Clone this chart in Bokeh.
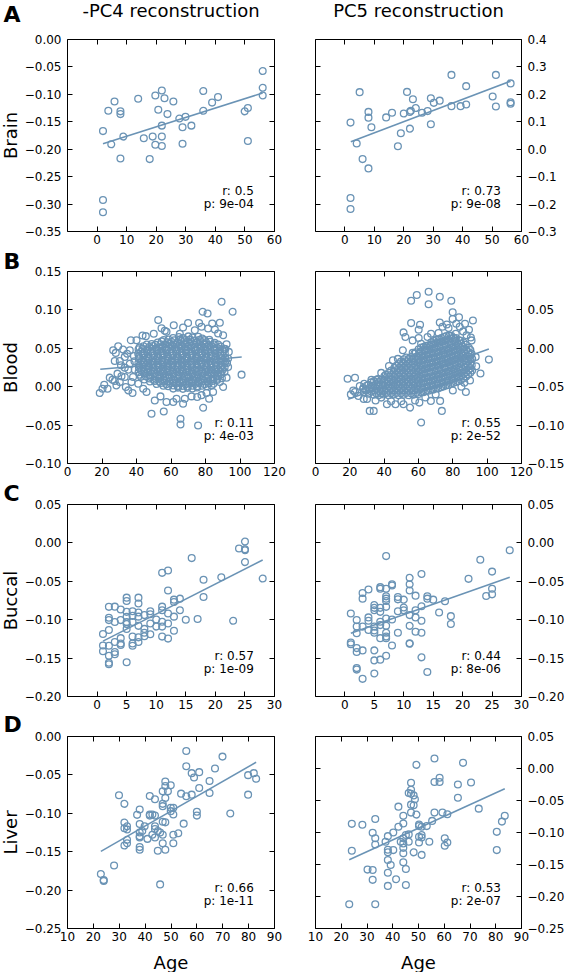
from bokeh.plotting import figure
from bokeh.layouts import column, row
from bokeh.models import Range1d, FixedTicker, LinearAxis, CustomJSTickFormatter, Label, GridBox
from bokeh.embed import file_html
from bokeh.resources import INLINE

COLOR = "#6a93b5"
FONT = "DejaVu Sans"

# ---------------- data ----------------
col_titles = ["-PC4 reconstruction", "PC5 reconstruction"]
row_names = ["Brain", "Blood", "Buccal", "Liver"]
panel_letters = ["A", "B", "C", "D"]
x_title = "Age"

brain_age_pc4 = [2, 2, 2, 3.8, 4.8, 5.9, 7.9, 7.9, 7.9, 8.9, 13.9, 15.8, 17.8, 18.8, 19.7, 19.7, 20.7,
                 21.9, 21.9, 21.9, 21.9, 22.8, 23.8, 25.8, 27.8, 28.9, 28.9, 29.9, 31.9, 35.9, 35.9,
                 38.9, 40.9, 49.9, 51, 51, 56, 56, 56]
brain_pc4 = [-0.167, -0.2925, -0.315, -0.13, -0.191, -0.113, -0.131, -0.136, -0.217, -0.177, -0.108,
             -0.18, -0.218, -0.177, -0.102, -0.192, -0.128, -0.093, -0.157, -0.177, -0.194, -0.107,
             -0.136, -0.113, -0.144, -0.16, -0.19, -0.141, -0.157, -0.094, -0.13, -0.115, -0.105,
             -0.131, -0.125, -0.185, -0.0575, -0.088, -0.102]
brain_pc4_fit_x = [2, 56]
brain_pc4_fit_y = [-0.190, -0.0975]

brain_age_pc5 = [1.9, 1.9, 1.9, 4, 5, 6, 8, 8, 8, 9, 14, 16, 18, 19, 20, 21.1, 22.1, 22.1, 22.4, 23.1,
                 24.1, 26.2, 28.1, 29.2, 29.2, 30.2, 32.2, 36.2, 36.2, 39.3, 41.2, 41.2, 50.2, 51.3,
                 51.3, 56.3, 56.3, 56.3]
brain_pc5 = [0.097, -0.178, -0.218, 0.021, 0.208, -0.036, 0.136, 0.115, -0.070, 0.080, 0.116, 0.133,
             0.011, 0.058, 0.13, 0.209, 0.136, 0.075, 0.14, 0.182, 0.150, 0.133, 0.139, 0.186, 0.091,
             0.169, 0.177, 0.271, 0.157, 0.157, 0.23, 0.163, 0.192, 0.271, 0.156, 0.24, 0.171, 0.166]
brain_pc5_fit_x = [2, 56.3]
brain_pc5_fit_y = [0.027, 0.248]

blood_pc4_pts = [
    # dense core
    (61.2, 0.0635), (64.5, 0.0648), (67.0, 0.0632), (70.1, 0.0655), (72.5, 0.0640), (75.8, 0.0650), (78.1, 0.0628),
    (55.8, 0.0608), (58.6, 0.0614), (61.9, 0.0604), (65.3, 0.0616), (68.2, 0.0607), (71.0, 0.0613), (73.8, 0.0602),
    (76.6, 0.0612), (79.4, 0.0606), (82.2, 0.0611),
    (52.3, 0.0575), (54.6, 0.0590), (57.9, 0.0578), (60.2, 0.0586), (63.5, 0.0571), (65.8, 0.0594), (69.0, 0.0580),
    (71.4, 0.0588), (74.7, 0.0574), (77.0, 0.0592), (80.3, 0.0579), (82.6, 0.0586), (85.3, 0.0572),
    (46.0, 0.0548), (48.8, 0.0556), (51.1, 0.0545), (53.9, 0.0553), (56.7, 0.0549), (59.5, 0.0557), (62.3, 0.0546),
    (65.1, 0.0554), (67.9, 0.0550), (70.7, 0.0558), (73.5, 0.0547), (76.3, 0.0555), (79.1, 0.0551), (81.9, 0.0544),
    (84.7, 0.0553), (87.3, 0.0548),
    (41.8, 0.0512), (44.1, 0.0527), (47.4, 0.0516), (49.6, 0.0531), (52.9, 0.0509), (55.3, 0.0524), (58.5, 0.0515),
    (60.8, 0.0530), (64.1, 0.0512), (66.4, 0.0526), (69.7, 0.0518), (72.0, 0.0532), (75.3, 0.0510), (77.6, 0.0525),
    (80.9, 0.0514), (83.2, 0.0529), (86.5, 0.0511), (88.8, 0.0523),
    (41.2, 0.0488), (43.5, 0.0495), (46.3, 0.0486), (49.1, 0.0493), (51.9, 0.0490), (54.7, 0.0497), (57.5, 0.0484),
    (60.3, 0.0492), (63.1, 0.0489), (65.9, 0.0496), (68.7, 0.0485), (71.5, 0.0493), (74.3, 0.0487), (77.1, 0.0495),
    (79.9, 0.0490), (82.7, 0.0486), (85.5, 0.0494), (88.3, 0.0489), (90.9, 0.0492),
    (42.7, 0.0455), (45.9, 0.0468), (48.3, 0.0452), (51.6, 0.0466), (53.9, 0.0458), (57.1, 0.0470), (59.5, 0.0454),
    (62.8, 0.0463), (65.1, 0.0451), (68.4, 0.0467), (70.6, 0.0459), (73.9, 0.0471), (76.2, 0.0453), (79.5, 0.0465),
    (81.8, 0.0457), (85.1, 0.0469), (87.4, 0.0450), (90.3, 0.0462),
    (41.0, 0.0428), (43.8, 0.0435), (46.6, 0.0426), (49.4, 0.0433), (52.2, 0.0430), (55.0, 0.0437), (57.8, 0.0424),
    (60.6, 0.0432), (63.4, 0.0429), (66.2, 0.0436), (69.0, 0.0425), (71.8, 0.0433), (74.6, 0.0427), (77.4, 0.0435),
    (80.2, 0.0430), (83.0, 0.0426), (85.8, 0.0434), (88.6, 0.0429), (91.2, 0.0432),
    (41.4, 0.0395), (44.5, 0.0408), (46.9, 0.0391), (50.2, 0.0404), (52.5, 0.0398), (55.7, 0.0410), (58.1, 0.0393),
    (61.3, 0.0406), (63.7, 0.0396), (66.9, 0.0409), (69.2, 0.0392), (72.4, 0.0405), (74.8, 0.0399), (78.0, 0.0411),
    (80.4, 0.0394), (83.6, 0.0407), (85.9, 0.0397), (89.0, 0.0403),
    (41.3, 0.0368), (44.1, 0.0375), (46.9, 0.0366), (49.7, 0.0373), (52.5, 0.0370), (55.3, 0.0377), (58.1, 0.0364),
    (60.9, 0.0372), (63.7, 0.0369), (66.5, 0.0376), (69.3, 0.0365), (72.1, 0.0373), (74.9, 0.0367), (77.7, 0.0375),
    (80.5, 0.0370), (83.3, 0.0366), (86.1, 0.0374), (88.9, 0.0369), (91.4, 0.0372),
    (42.9, 0.0335), (45.6, 0.0348), (48.6, 0.0331), (51.2, 0.0344), (54.3, 0.0338), (56.8, 0.0350), (59.9, 0.0333),
    (62.4, 0.0346), (65.5, 0.0336), (68.0, 0.0349), (71.1, 0.0332), (73.6, 0.0345), (76.7, 0.0339), (79.2, 0.0351),
    (82.3, 0.0334), (84.8, 0.0347), (87.9, 0.0337), (90.4, 0.0344),
    (41.1, 0.0308), (43.9, 0.0315), (46.7, 0.0306), (49.5, 0.0313), (52.3, 0.0310), (55.1, 0.0317), (57.9, 0.0304),
    (60.7, 0.0312), (63.5, 0.0309), (66.3, 0.0316), (69.1, 0.0305), (71.9, 0.0313), (74.7, 0.0307), (77.5, 0.0315),
    (80.3, 0.0310), (83.1, 0.0306), (85.9, 0.0314), (88.7, 0.0309), (91.3, 0.0312),
    (41.6, 0.0275), (44.3, 0.0288), (47.2, 0.0271), (49.8, 0.0284), (52.8, 0.0278), (55.4, 0.0290), (58.4, 0.0273),
    (61.0, 0.0286), (64.0, 0.0276), (66.6, 0.0289), (69.6, 0.0272), (72.2, 0.0285), (75.2, 0.0279), (77.8, 0.0291),
    (80.8, 0.0274), (83.4, 0.0287), (86.4, 0.0277), (89.2, 0.0283),
    (41.4, 0.0248), (44.2, 0.0255), (47.0, 0.0246), (49.8, 0.0253), (52.6, 0.0250), (55.4, 0.0257), (58.2, 0.0244),
    (61.0, 0.0252), (63.8, 0.0249), (66.6, 0.0256), (69.4, 0.0245), (72.2, 0.0253), (75.0, 0.0247), (77.8, 0.0255),
    (80.6, 0.0250), (83.4, 0.0246), (86.2, 0.0254), (89.0, 0.0249), (91.1, 0.0252),
    (42.8, 0.0215), (45.7, 0.0228), (48.4, 0.0211), (51.4, 0.0224), (54.0, 0.0218), (57.0, 0.0230), (59.6, 0.0213),
    (62.6, 0.0226), (65.2, 0.0216), (68.2, 0.0229), (70.8, 0.0212), (73.8, 0.0225), (76.4, 0.0219), (79.4, 0.0231),
    (82.0, 0.0214), (85.0, 0.0227), (87.6, 0.0217), (90.1, 0.0223),
    (41.2, 0.0188), (44.0, 0.0195), (46.8, 0.0186), (49.6, 0.0193), (52.4, 0.0190), (55.2, 0.0197), (58.0, 0.0184),
    (60.8, 0.0192), (63.6, 0.0189), (66.4, 0.0196), (69.2, 0.0185), (72.0, 0.0193), (74.8, 0.0187), (77.6, 0.0195),
    (80.4, 0.0190), (83.2, 0.0186), (86.0, 0.0194), (88.8, 0.0189),
    (41.9, 0.0155), (44.6, 0.0168), (47.6, 0.0151), (50.1, 0.0164), (53.2, 0.0158), (55.6, 0.0170), (58.8, 0.0153),
    (61.2, 0.0166), (64.4, 0.0156), (66.8, 0.0169), (70.0, 0.0152), (72.4, 0.0165), (75.6, 0.0159), (78.0, 0.0171),
    (81.2, 0.0154), (83.6, 0.0167), (86.6, 0.0157), (89.0, 0.0163),
    (42.6, 0.0128), (45.4, 0.0135), (48.2, 0.0126), (51.0, 0.0133), (53.8, 0.0130), (56.6, 0.0137), (59.4, 0.0124),
    (62.2, 0.0132), (65.0, 0.0129), (67.8, 0.0136), (70.6, 0.0125), (73.4, 0.0133), (76.2, 0.0127), (79.0, 0.0135),
    (81.8, 0.0130), (84.6, 0.0126), (87.4, 0.0134),
    (44.5, 0.0095), (47.4, 0.0108), (49.9, 0.0091), (52.9, 0.0104), (55.5, 0.0098), (58.4, 0.0110), (61.0, 0.0093),
    (64.0, 0.0106), (66.6, 0.0096), (69.5, 0.0109), (72.1, 0.0092), (75.1, 0.0105), (77.7, 0.0099), (80.6, 0.0111),
    (83.2, 0.0094), (86.9, 0.0104),
    (47.8, 0.0068), (50.6, 0.0075), (53.4, 0.0066), (56.2, 0.0073), (59.0, 0.0070), (61.8, 0.0077), (64.6, 0.0064),
    (67.4, 0.0072), (70.2, 0.0069), (73.0, 0.0076), (75.8, 0.0065), (78.6, 0.0073), (81.4, 0.0067), (84.2, 0.0074),
    (86.8, 0.0088),
    (51.6, 0.0035), (54.2, 0.0048), (57.3, 0.0031), (59.7, 0.0044), (62.8, 0.0038), (65.3, 0.0050), (68.4, 0.0033),
    (70.8, 0.0046), (73.9, 0.0036), (76.4, 0.0049), (79.5, 0.0032), (81.9, 0.0045), (84.6, 0.0039),
    (55.6, 0.0012), (58.4, 0.0005), (61.2, 0.0015), (64.0, 0.0008), (66.8, 0.0011), (69.6, 0.0004), (72.4, 0.0013),
    (75.2, 0.0007), (78.0, 0.0012), (80.8, 0.0006),
    (61.3, -0.0025), (64.1, -0.0012), (66.9, -0.0028), (69.6, -0.0015), (72.4, -0.0022), (75.2, -0.0010),
    # sparser surroundings
    (18.7, -0.0083), (20.3, -0.0026), (21.3, 0.0026), (23.2, -0.0026), (24.5, 0.0118), (26.1, 0.009),
    (27.4, 0.0074), (28.4, 0.0017), (30.3, 0.006), (31.3, 0.0135), (33.2, 0.0126), (33.8, -0.0004),
    (35.2, -0.0048), (37.7, -0.0083), (26.5, 0.0475), (28.0, 0.044), (29.4, 0.0527), (27.4, 0.0335),
    (30.3, 0.0335), (32.3, 0.0483), (33.2, 0.0388), (36.1, 0.0475), (36.7, 0.0605), (40.0, 0.0605),
    (43.5, 0.0666), (45.4, 0.0658), (36.1, 0.030), (35.2, 0.0222), (33.2, 0.0248), (38.0, 0.0126),
    (37.1, 0.006), (38.5, 0.040), (39.0, 0.022), (34.5, 0.043), (31.0, 0.028), (29.0, 0.017), (38.8, 0.033),
    (52.6, 0.0867), (56.4, 0.0727), (61.6, 0.080), (67.0, 0.077), (69.9, 0.083), (76.3, 0.083),
    (78.3, 0.0976), (81.2, 0.0954), (83.9, 0.0823), (88.3, 0.0832), (89.3, 0.1106), (95.7, 0.0976),
    (85.4, 0.0745), (87.3, 0.0692), (92.2, 0.0553), (93.5, 0.0453), (93.1, 0.0257), (92.2, 0.0118),
    (90.2, -0.0004), (100.9, 0.0157), (45.8, -0.007), (50.6, -0.0179), (48.7, -0.0353), (55.8, -0.0322),
    (57.4, -0.020), (65.5, -0.0418), (65.5, -0.0492), (75.7, -0.0505), (78.6, -0.0274), (82.1, -0.0157),
    (75.2, -0.0135), (67.0, -0.0222), (61.3, -0.020), (50.0, 0.069), (54.5, 0.076), (57.4, 0.0714),
    (65.1, 0.069), (73.8, 0.0736), (77.7, 0.078), (81.5, 0.0758), (90.2, 0.067), (93.1, 0.0366),
    (88.3, 0.006), (83.5, 0.0017), (84.4, -0.007), (80.6, -0.0083), (77.7, -0.011), (71.9, -0.0126),
    (68.0, -0.0157), (63.2, -0.0157), (53.9, -0.0126), (43.9, -0.0026), (41.0, 0.0039), (91.5, 0.049),
    (92.5, 0.031), (91.0, 0.019), (89.5, 0.011),
]
blood_pc4_fit_x = [19, 101]
blood_pc4_fit_y = [0.0226, 0.0388]

blood_pc5_pts = [
    # dense band
    (28.2, -0.0575), (27.9, -0.0518), (28.4, -0.0462),
    (29.6, -0.0545), (29.8, -0.0488),
    (31.0, -0.0592), (31.3, -0.0531), (30.8, -0.0474),
    (32.5, -0.0562), (32.7, -0.0503), (32.4, -0.0444),
    (33.9, -0.0605), (34.2, -0.0548), (33.7, -0.0489), (34.1, -0.0428),
    (35.4, -0.0585), (35.6, -0.0526), (35.3, -0.0467), (35.5, -0.0410),
    (36.8, -0.0612), (37.1, -0.0556), (36.6, -0.0497), (37.0, -0.0438),
    (38.3, -0.0588), (38.5, -0.0529), (38.2, -0.0470), (38.4, -0.0411),
    (39.7, -0.0601), (40.0, -0.0543), (39.5, -0.0482), (39.9, -0.0421), (40.2, -0.0362),
    (41.2, -0.0582), (41.4, -0.0523), (41.1, -0.0464), (41.3, -0.0405), (41.0, -0.0346),
    (42.6, -0.0612), (42.9, -0.0553), (42.4, -0.0494), (42.8, -0.0433), (43.1, -0.0374), (42.7, -0.0318),
    (44.1, -0.0585), (44.3, -0.0526), (44.0, -0.0467), (44.2, -0.0408), (43.9, -0.0349), (44.1, -0.0290),
    (45.5, -0.0603), (45.8, -0.0545), (45.3, -0.0485), (45.7, -0.0424), (46.0, -0.0366), (45.6, -0.0305),
    (45.9, -0.0258),
    (47.0, -0.0582), (47.2, -0.0523), (46.9, -0.0464), (47.1, -0.0405), (46.8, -0.0346), (47.0, -0.0287),
    (47.2, -0.0228),
    (48.4, -0.0612), (48.7, -0.0551), (48.2, -0.0492), (48.6, -0.0433), (48.9, -0.0373), (48.5, -0.0314),
    (48.8, -0.0255), (48.6, -0.0198),
    (49.9, -0.0585), (50.1, -0.0526), (49.8, -0.0467), (50.0, -0.0408), (49.7, -0.0349), (49.9, -0.0290),
    (50.1, -0.0231), (49.8, -0.0172),
    (51.3, -0.0604), (51.6, -0.0546), (51.1, -0.0487), (51.5, -0.0426), (51.8, -0.0366), (51.4, -0.0307),
    (51.7, -0.0248), (51.2, -0.0190), (51.5, -0.0142),
    (52.8, -0.0582), (53.0, -0.0523), (52.7, -0.0464), (52.9, -0.0405), (52.6, -0.0346), (52.8, -0.0287),
    (53.0, -0.0228), (52.7, -0.0169), (52.9, -0.0120),
    (54.2, -0.0612), (54.5, -0.0553), (54.0, -0.0493), (54.4, -0.0434), (54.7, -0.0375), (54.3, -0.0315),
    (54.6, -0.0256), (54.1, -0.0197), (54.4, -0.0138),
    (55.7, -0.0585), (55.9, -0.0526), (55.6, -0.0467), (55.8, -0.0408), (55.5, -0.0349), (55.7, -0.0290),
    (55.9, -0.0231), (55.6, -0.0172), (55.8, -0.0113),
    (57.1, -0.0604), (57.4, -0.0545), (56.9, -0.0486), (57.3, -0.0427), (57.6, -0.0367), (57.2, -0.0308),
    (57.5, -0.0249), (57.0, -0.0190), (57.3, -0.0131), (57.6, -0.0072),
    (58.6, -0.0582), (58.8, -0.0523), (58.5, -0.0464), (58.7, -0.0405), (58.4, -0.0346), (58.6, -0.0287),
    (58.8, -0.0228), (58.5, -0.0169), (58.7, -0.0110), (58.4, -0.0051),
    (60.0, -0.0595), (60.3, -0.0537), (59.8, -0.0478), (60.2, -0.0418), (60.5, -0.0358), (60.1, -0.0299),
    (60.4, -0.0240), (59.9, -0.0181), (60.2, -0.0122), (60.5, -0.0063), (60.1, -0.0012),
    (61.5, -0.0572), (61.7, -0.0513), (61.4, -0.0454), (61.6, -0.0395), (61.3, -0.0336), (61.5, -0.0277),
    (61.7, -0.0218), (61.4, -0.0159), (61.6, -0.0100), (61.3, -0.0041), (61.5, 0.0010),
    (62.9, -0.0571), (63.2, -0.0512), (62.7, -0.0453), (63.1, -0.0394), (63.4, -0.0335), (63.0, -0.0276),
    (63.3, -0.0217), (62.8, -0.0158), (63.1, -0.0099), (63.4, -0.0040), (63.0, 0.0018),
    (64.4, -0.0556), (64.6, -0.0497), (64.3, -0.0438), (64.5, -0.0379), (64.2, -0.0320), (64.4, -0.0261),
    (64.6, -0.0202), (64.3, -0.0143), (64.5, -0.0084), (64.2, -0.0025), (64.4, 0.0034),
    (65.8, -0.0553), (66.1, -0.0494), (65.6, -0.0435), (66.0, -0.0376), (66.3, -0.0317), (65.9, -0.0258),
    (66.2, -0.0199), (65.7, -0.0140), (66.0, -0.0081), (66.3, -0.0022), (65.9, 0.0037),
    (67.3, -0.0540), (67.5, -0.0481), (67.2, -0.0422), (67.4, -0.0363), (67.1, -0.0304), (67.3, -0.0245),
    (67.5, -0.0186), (67.2, -0.0127), (67.4, -0.0068), (67.1, -0.0009), (67.3, 0.0050), (67.5, 0.0078),
    (68.7, -0.0538), (69.0, -0.0479), (68.5, -0.0420), (68.9, -0.0361), (69.2, -0.0302), (68.8, -0.0243),
    (69.1, -0.0184), (68.6, -0.0125), (68.9, -0.0066), (69.2, -0.0007), (68.8, 0.0052), (69.1, 0.0095),
    (70.2, -0.0522), (70.4, -0.0463), (70.1, -0.0404), (70.3, -0.0345), (70.0, -0.0286), (70.2, -0.0227),
    (70.4, -0.0168), (70.1, -0.0109), (70.3, -0.0050), (70.0, 0.0009), (70.2, 0.0068), (70.4, 0.0112),
    (71.6, -0.0521), (71.9, -0.0462), (71.4, -0.0403), (71.8, -0.0344), (72.1, -0.0285), (71.7, -0.0226),
    (72.0, -0.0167), (71.5, -0.0108), (71.8, -0.0049), (72.1, 0.0010), (71.7, 0.0069), (72.0, 0.0121),
    (73.1, -0.0506), (73.3, -0.0447), (73.0, -0.0388), (73.2, -0.0329), (72.9, -0.0270), (73.1, -0.0211),
    (73.3, -0.0152), (73.0, -0.0093), (73.2, -0.0034), (72.9, 0.0025), (73.1, 0.0084), (73.3, 0.0135),
    (74.5, -0.0497), (74.8, -0.0438), (74.3, -0.0379), (74.7, -0.0320), (75.0, -0.0261), (74.6, -0.0202),
    (74.9, -0.0143), (74.4, -0.0084), (74.7, -0.0025), (75.0, 0.0034), (74.6, 0.0093), (74.9, 0.0148),
    (76.0, -0.0485), (76.2, -0.0426), (75.9, -0.0367), (76.1, -0.0308), (75.8, -0.0249), (76.0, -0.0190),
    (76.2, -0.0131), (75.9, -0.0072), (76.1, -0.0013), (75.8, 0.0046), (76.0, 0.0105), (76.2, 0.0160),
    (77.4, -0.0478), (77.7, -0.0419), (77.2, -0.0360), (77.6, -0.0301), (77.9, -0.0242), (77.5, -0.0183),
    (77.8, -0.0124), (77.3, -0.0065), (77.6, -0.0006), (77.9, 0.0053), (77.5, 0.0112), (77.8, 0.0165),
    (78.9, -0.0462), (79.1, -0.0403), (78.8, -0.0344), (79.0, -0.0285), (78.7, -0.0226), (78.9, -0.0167),
    (79.1, -0.0108), (78.8, -0.0049), (79.0, 0.0010), (78.7, 0.0069), (78.9, 0.0128), (79.1, 0.0162),
    (80.3, -0.0452), (80.6, -0.0393), (80.1, -0.0334), (80.5, -0.0275), (80.8, -0.0216), (80.4, -0.0157),
    (80.7, -0.0098), (80.2, -0.0039), (80.5, 0.0020), (80.8, 0.0079), (80.4, 0.0138),
    (81.8, -0.0438), (82.0, -0.0379), (81.7, -0.0320), (81.9, -0.0261), (81.6, -0.0202), (81.8, -0.0143),
    (82.0, -0.0084), (81.7, -0.0025), (81.9, 0.0034), (81.6, 0.0093), (81.8, 0.0135),
    (83.2, -0.0428), (83.5, -0.0369), (83.0, -0.0310), (83.4, -0.0251), (83.7, -0.0192), (83.3, -0.0133),
    (83.6, -0.0074), (83.1, -0.0015), (83.4, 0.0044), (83.7, 0.0103),
    (84.7, -0.0410), (84.9, -0.0351), (84.6, -0.0292), (84.8, -0.0233), (84.5, -0.0174), (84.7, -0.0115),
    (84.9, -0.0056), (84.6, 0.0003), (84.8, 0.0062), (84.5, 0.0098),
    (86.1, -0.0392), (86.4, -0.0333), (85.9, -0.0274), (86.3, -0.0215), (86.6, -0.0156), (86.2, -0.0097),
    (86.5, -0.0038), (86.0, 0.0021), (86.3, 0.0075),
    (87.6, -0.0370), (87.8, -0.0311), (87.5, -0.0252), (87.7, -0.0193), (87.4, -0.0134), (87.6, -0.0075),
    (87.8, -0.0016), (87.5, 0.0045),
    (88.9, -0.0345), (89.2, -0.0286), (88.7, -0.0227), (89.1, -0.0168), (89.4, -0.0109), (89.0, -0.0050),
    (89.3, 0.0005),
    (90.2, -0.0318), (90.4, -0.0259), (90.1, -0.0200), (90.3, -0.0141), (90.0, -0.0082), (90.2, -0.0023),
    (91.2, -0.0290), (91.0, -0.0220), (91.3, -0.0140), (90.9, -0.0070),
    # sparser surroundings
    (18.7, -0.0397), (23.0, -0.0384), (20.6, -0.060), (23.0, -0.057), (25.8, -0.049), (27.7, -0.053),
    (28.1, -0.066), (31.6, -0.0815), (33.9, -0.0815), (32.6, -0.041), (36.4, -0.040), (38.3, -0.032),
    (42.8, -0.023), (45.1, -0.0155), (48.0, -0.0138), (50.9, -0.0026), (52.4, 0.0147), (51.3, 0.0207),
    (55.7, 0.0328), (56.6, 0.0103), (60.1, 0.0134), (60.9, 0.0306), (60.1, 0.0241), (55.7, 0.062),
    (59.0, 0.0694), (65.9, 0.0737), (65.9, 0.0573), (72.4, 0.0672), (79.1, 0.062), (79.9, 0.047),
    (79.9, 0.038), (83.6, 0.0405), (87.1, 0.0319), (91.7, 0.0362), (89.4, 0.0241), (90.9, 0.0103),
    (93.3, -0.0112), (93.6, -0.0233), (96.1, -0.0328), (101.0, -0.0147), (87.6, -0.0569), (86.7, -0.0448),
    (73.6, -0.0815), (72.6, -0.0685), (61.5, -0.0966), (55.1, -0.0772), (51.3, -0.0728), (46.6, -0.0728),
    (41.6, -0.0728), (38.3, -0.0642), (60.5, -0.0707), (67.2, -0.0685), (72.4, 0.0336), (56.6, -0.006),
    (66.7, 0.0026), (67.3, 0.019), (65.3, 0.0147), (71.7, 0.0198), (77.5, 0.0263), (81.7, 0.019),
    (61.5, 0.006), (74.0, 0.028), (84.0, 0.028), (86.0, 0.022), (88.0, 0.017), (90.5, 0.014), (82.0, 0.032),
    (76.5, 0.031), (30.0, -0.066), (35.0, -0.068), (44.0, -0.069), (50.0, -0.069), (58.0, -0.068),
    (64.0, -0.064), (70.0, -0.060), (80.0, -0.055), (85.0, -0.050), (90.0, -0.042), (25.0, -0.062),
    (22.0, -0.055),
]
blood_pc5_fit_x = [19, 101]
blood_pc5_fit_y = [-0.0664, -0.0009]

buccal_pc4_pts = [
    (1, -0.1186), (1, -0.1336), (1, -0.141),
    (2, -0.0833), (2, -0.0975), (2, -0.1005), (2, -0.1134), (2, -0.134), (2, -0.147), (2, -0.156), (2, -0.158),
    (3, -0.083), (3, -0.103), (3, -0.129), (3, -0.142), (3, -0.145),
    (4, -0.0868), (4, -0.1005), (4, -0.124), (4, -0.131), (4, -0.133),
    (5, -0.0713), (5, -0.0756), (5, -0.0898), (5, -0.0962), (5, -0.103), (5, -0.1057), (5, -0.112), (5, -0.1555),
    (6, -0.089), (6, -0.095), (6, -0.103), (6, -0.122), (6, -0.131), (6, -0.134),
    (7, -0.0713), (7, -0.079), (7, -0.0906), (7, -0.096), (7, -0.108), (7, -0.123), (7, -0.129),
    (8, -0.094), (8, -0.112), (8, -0.117), (8, -0.1216),
    (9, -0.089), (9, -0.093), (9, -0.105), (9, -0.119),
    (10, -0.0997), (10, -0.109),
    (11, -0.039), (11, -0.083), (11, -0.0876), (11, -0.1027), (11, -0.109), (11, -0.122),
    (12, -0.036), (12, -0.0619), (12, -0.092), (12, -0.105), (12, -0.1246),
    (13, -0.0739), (13, -0.077), (13, -0.096), (13, -0.1143),
    (14, -0.0726), (14, -0.0876), (15, -0.100), (16, -0.0198), (17, -0.099),
    (18, -0.048), (18, -0.0704), (21, -0.0447), (23, -0.1014), (24, -0.0073),
    (25, 0.0017), (25, -0.0082), (25, -0.0095), (25, -0.025), (28, -0.0464),
]
buccal_pc4_fit_x = [1, 28]
buccal_pc4_fit_y = [-0.128, -0.0223]

buccal_pc5_pts = [
    (1, -0.092), (1, -0.1297), (1, -0.132),
    (2, -0.1005), (2, -0.109), (2, -0.1177), (2, -0.137), (2, -0.142), (2, -0.163), (2, -0.165),
    (3, -0.0653), (3, -0.0726), (3, -0.109), (3, -0.14), (3, -0.177),
    (4, -0.0606), (4, -0.097), (4, -0.1014), (4, -0.1134),
    (5, -0.081), (5, -0.0846), (5, -0.0876), (5, -0.109), (5, -0.114), (5, -0.117), (5, -0.14), (5, -0.153), (5, -0.170),
    (6, -0.0576), (6, -0.0597), (6, -0.0846), (6, -0.0898), (6, -0.1027), (6, -0.107), (6, -0.124), (6, -0.152),
    (7, -0.0172), (7, -0.0597), (7, -0.0696), (7, -0.0726), (7, -0.0756), (7, -0.0833), (7, -0.0984), (7, -0.108),
    (7, -0.117), (7, -0.122), (7, -0.124), (7, -0.147),
    (8, -0.054), (8, -0.0554), (8, -0.0997), (8, -0.1336),
    (9, -0.0704), (9, -0.0735), (9, -0.089), (9, -0.117),
    (10, -0.0739), (10, -0.0842), (10, -0.0876),
    (11, -0.0455), (11, -0.054), (11, -0.0619), (11, -0.094), (11, -0.108), (11, -0.1306), (11, -0.1314),
    (12, -0.0687), (12, -0.0876), (12, -0.097), (12, -0.1156),
    (13, -0.0404), (13, -0.0825), (13, -0.1014), (13, -0.117), (13, -0.149),
    (14, -0.0696), (14, -0.0726), (14, -0.168), (15, -0.0739), (16, -0.0906), (17, -0.076),
    (18, -0.0954), (18, -0.1057), (21, -0.0468), (23, -0.0219), (24, -0.0692),
    (25, -0.0374), (25, -0.0597), (25, -0.067), (28, -0.0095),
]
buccal_pc5_fit_x = [1, 28]
buccal_pc5_fit_y = [-0.1177, -0.0447]

liver_pc4_pts = [
    (22.9, -0.179), (24, -0.187), (24, -0.188), (28, -0.168), (29.9, -0.0765), (32, -0.0877), (32, -0.112),
    (32, -0.1195), (32, -0.142), (33, -0.117), (33, -0.121), (33, -0.1346), (33, -0.139), (36.9, -0.102),
    (37.9, -0.095), (37.9, -0.114), (37.9, -0.125), (37.9, -0.130), (37.9, -0.1316), (37.9, -0.144),
    (37.9, -0.1475), (38.9, -0.123), (39.8, -0.117), (40.9, -0.1333), (41.8, -0.0774), (41.8, -0.1015),
    (41.8, -0.103), (42.8, -0.1015), (42.8, -0.128), (43.8, -0.0817), (43.8, -0.103), (43.8, -0.117),
    (43.8, -0.1204), (43.8, -0.1316), (44.9, -0.123), (44.9, -0.1488), (45.8, -0.125), (45.8, -0.1926),
    (46.8, -0.128), (46.8, -0.139), (46.8, -0.0714), (46.8, -0.0877), (46.8, -0.0907), (46.8, -0.111),
    (47.8, -0.0585), (47.8, -0.0645), (47.8, -0.08), (47.8, -0.1118), (47.8, -0.1475), (48.8, -0.0714),
    (49.9, -0.0636), (49.9, -0.0929), (49.9, -0.0972), (50.9, -0.0929), (50.9, -0.1015), (50.9, -0.128),
    (50.9, -0.139), (52.8, -0.126), (53.9, -0.0744), (54.9, -0.1135), (55.9, -0.0189), (55.9, -0.0387),
    (55.9, -0.0778), (58, -0.0477), (58, -0.0757), (58.9, -0.0533), (60, -0.098), (60, -0.103),
    (60.9, -0.0464), (60.9, -0.067), (64.9, -0.058), (64.9, -0.0735), (67, -0.0417), (69.9, -0.0262),
    (72.9, -0.1002), (79.8, -0.0503), (79.8, -0.0757), (82, -0.0477), (82.9, -0.055),
]
liver_pc4_fit_x = [22.9, 82.9]
liver_pc4_fit_y = [-0.1496, -0.0335]

liver_pc5_pts = [
    (23.1, -0.212), (24.1, -0.0865), (24.1, -0.1285), (28.2, -0.088), (30.2, -0.158), (32.2, -0.1005),
    (32.2, -0.1585), (32.2, -0.174), (33.2, -0.0788), (33.2, -0.109), (33.2, -0.1187), (33.2, -0.212),
    (37.2, -0.1145), (38.1, -0.1057), (38.1, -0.127), (38.1, -0.131), (38.1, -0.143), (38.1, -0.163),
    (38.1, -0.1834), (39.2, -0.1508), (40.2, -0.100), (40.2, -0.1275), (41.3, -0.173), (42.2, -0.0596),
    (42.2, -0.091), (43.1, -0.1145), (44.1, -0.074), (44.1, -0.086), (44.1, -0.109), (44.1, -0.117),
    (44.1, -0.124), (44.1, -0.1326), (44.1, -0.1466), (45.1, -0.104), (45.1, -0.157), (45.1, -0.182),
    (46.2, -0.0383), (46.2, -0.103), (46.2, -0.1145), (47.1, -0.0223), (47.1, -0.0394), (47.1, -0.0565),
    (47.1, -0.0689), (47.1, -0.0332), (48.1, -0.042), (48.1, -0.0575), (48.1, -0.131), (48.6, -0.048),
    (49.2, 0.0057), (49.2, -0.072), (50.2, -0.0876), (50.2, -0.090), (50.2, -0.1067), (50.2, -0.1155),
    (51.2, -0.091), (51.2, -0.104), (51.2, -0.1078), (51.2, -0.135), (53.2, -0.090), (54.2, -0.1145),
    (55.3, -0.0819), (56.2, 0.0155), (56.2, -0.0212), (56.2, -0.0689), (58.2, -0.0145), (58.2, -0.0212),
    (59.3, -0.0689), (60.2, -0.109), (60.2, -0.1207), (61.2, -0.1155), (61.2, -0.0715), (65.3, -0.0249),
    (65.3, -0.0456), (67.3, 0.0088), (70.4, -0.0218), (73.4, -0.0627), (80.4, -0.099), (80.4, -0.1275),
    (82.4, -0.083), (83.5, -0.074),
]
liver_pc5_fit_x = [23.1, 83.5]
liver_pc5_fit_y = [-0.1425, -0.0316]

stats_r = [["r: 0.5", "r: 0.73"], ["r: 0.11", "r: 0.55"], ["r: 0.57", "r: 0.44"], ["r: 0.66", "r: 0.53"]]
stats_p = [["p: 9e-04", "p: 9e-08"], ["p: 4e-03", "p: 2e-52"], ["p: 1e-09", "p: 8e-06"], ["p: 1e-11", "p: 2e-07"]]

x_ranges = [(-10, 60), (0, 120), (-5, 30), (10, 90)]
x_ticks = [[0, 10, 20, 30, 40, 50, 60], [0, 20, 40, 60, 80, 100, 120], [0, 5, 10, 15, 20, 25, 30],
           [10, 20, 30, 40, 50, 60, 70, 80, 90]]
y_ranges = [[(-0.35, 0.0), (-0.3, 0.4)], [(-0.10, 0.15), (-0.15, 0.10)],
            [(-0.20, 0.05), (-0.20, 0.05)], [(-0.25, 0.0), (-0.25, 0.05)]]
y_ticks = [[[-0.35, -0.3, -0.25, -0.2, -0.15, -0.1, -0.05, 0.0], [-0.3, -0.2, -0.1, 0.0, 0.1, 0.2, 0.3, 0.4]],
           [[-0.1, -0.05, 0.0, 0.05, 0.1, 0.15], [-0.15, -0.1, -0.05, 0.0, 0.05]],
           [[-0.2, -0.15, -0.1, -0.05, 0.0, 0.05], [-0.2, -0.15, -0.1, -0.05, 0.0, 0.05]],
           [[-0.25, -0.2, -0.15, -0.1, -0.05, 0.0], [-0.25, -0.2, -0.15, -0.1, -0.05, 0.0, 0.05]]]
y_decimals = [[2, 1], [2, 2], [2, 2], [2, 2]]

# ---------------- layout (pixels) ----------------
TOTAL_W, TOTAL_H = 567, 972
COL_W = [294, 273]
COL_BORDERS = [(67, 20), (21, 46)]      # (left, right)
ROW_H = [251, 232, 233, 256]
ROW_BORDERS = [(39, 20), (20, 20), (21, 20), (20, 44)]  # (top, bottom)
MID = 0.36  # distance from baseline to the middle of capital letters, in font sizes


def num_fmt(dec):
    return CustomJSTickFormatter(args=dict(d=dec), code="""
        const s = Math.abs(tick).toFixed(d);
        return (tick < -1e-9 ? '\u2212' : '') + s;
    """)


def blank_fmt():
    return CustomJSTickFormatter(code="return '';")


def style_axis(ax, ticks, fmt, labels=True, standoff=5):
    ax.ticker = FixedTicker(ticks=ticks)
    ax.formatter = fmt
    ax.axis_line_color = None
    ax.major_tick_in = 5
    ax.major_tick_out = 0
    ax.major_tick_line_color = "black"
    ax.major_tick_line_width = 1
    ax.minor_tick_line_color = None
    ax.major_label_text_font = FONT
    ax.major_label_text_color = "black"
    ax.major_label_standoff = standoff
    ax.major_label_text_font_size = "12px" if labels else "0px"


def label(p, text, x, y, size, align="left", bold=False, angle=0, units="screen"):
    p.add_layout(Label(x=x, y=y, x_units=units, y_units=units, text=text,
                       text_font=FONT, text_font_size=f"{size}px", text_align=align,
                       text_baseline="middle", text_color="black",
                       text_font_style="bold" if bold else "normal",
                       angle=angle, angle_units="deg"))


data = [
    [(brain_age_pc4, brain_pc4, brain_pc4_fit_x, brain_pc4_fit_y),
     (brain_age_pc5, brain_pc5, brain_pc5_fit_x, brain_pc5_fit_y)],
    [([a for a, _ in blood_pc4_pts], [v for _, v in blood_pc4_pts], blood_pc4_fit_x, blood_pc4_fit_y),
     ([a for a, _ in blood_pc5_pts], [v for _, v in blood_pc5_pts], blood_pc5_fit_x, blood_pc5_fit_y)],
    [([a for a, _ in buccal_pc4_pts], [v for _, v in buccal_pc4_pts], buccal_pc4_fit_x, buccal_pc4_fit_y),
     ([a for a, _ in buccal_pc5_pts], [v for _, v in buccal_pc5_pts], buccal_pc5_fit_x, buccal_pc5_fit_y)],
    [([a for a, _ in liver_pc4_pts], [v for _, v in liver_pc4_pts], liver_pc4_fit_x, liver_pc4_fit_y),
     ([a for a, _ in liver_pc5_pts], [v for _, v in liver_pc5_pts], liver_pc5_fit_x, liver_pc5_fit_y)],
]

frame_left, frame_right, frame_top, frame_bottom = [], [], [], []
xpos = 0
for c in range(2):
    frame_left.append(xpos + COL_BORDERS[c][0])
    frame_right.append(xpos + COL_W[c] - COL_BORDERS[c][1])
    xpos += COL_W[c]
ypos = 0
for r in range(4):
    frame_top.append(ypos + ROW_BORDERS[r][0])
    frame_bottom.append(ypos + ROW_H[r] - ROW_BORDERS[r][1])
    ypos += ROW_H[r]

rows = []
for r in range(4):
    figs = []
    for c in range(2):
        bl, br = COL_BORDERS[c]
        bt, bb = ROW_BORDERS[r]
        fw = COL_W[c] - bl - br
        p = figure(width=COL_W[c], height=ROW_H[r],
                   x_range=Range1d(*x_ranges[r]), y_range=Range1d(*y_ranges[r][c]),
                   output_backend="svg", toolbar_location=None, tools="",
                   y_axis_location="left" if c == 0 else "right",
                   min_border_left=bl, min_border_right=br, min_border_top=bt, min_border_bottom=bb)
        p.xgrid.visible = False
        p.ygrid.visible = False
        p.outline_line_color = "black"
        p.outline_line_width = 1
        p.outline_line_alpha = 1
        p.background_fill_color = "white"
        p.border_fill_color = "white"

        style_axis(p.xaxis[0], x_ticks[r], num_fmt(0), standoff=3)
        style_axis(p.yaxis[0], y_ticks[r][c], num_fmt(y_decimals[r][c]), standoff=6)

        top_ax = LinearAxis()
        style_axis(top_ax, x_ticks[r], blank_fmt(), labels=False, standoff=0)
        p.add_layout(top_ax, "above")
        side_ax = LinearAxis()
        style_axis(side_ax, y_ticks[r][c], blank_fmt(), labels=False, standoff=0)
        p.add_layout(side_ax, "right" if c == 0 else "left")

        xs, ys, fx, fy = data[r][c]
        p.line(fx, fy, line_color=COLOR, line_width=1.5)
        p.scatter(xs, ys, marker="circle", size=6.8, fill_color=None,
                  line_color=COLOR, line_width=1.3)

        # baselines 36 px and 23 px above the frame bottom
        label(p, stats_r[r][c], 0.9 * fw, 36 + MID * 12, 12, align="right")
        label(p, stats_p[r][c], 0.9 * fw, 23 + MID * 12, 12, align="right")
        figs.append(p)
    rows.append(row(*figs))

grid = column(*rows)

# transparent overlay (same size as the grid) for the texts that sit outside the plot frames
ov = figure(width=TOTAL_W, height=TOTAL_H, x_range=Range1d(0, TOTAL_W), y_range=Range1d(TOTAL_H, 0),
            output_backend="svg", toolbar_location=None, tools="",
            x_axis_location=None, y_axis_location=None,
            min_border=0, min_border_left=0, min_border_right=0, min_border_top=0, min_border_bottom=0)
ov.xgrid.visible = False
ov.ygrid.visible = False
ov.outline_line_color = None
ov.background_fill_color = None
ov.border_fill_color = None

for c in range(2):
    cx = (frame_left[c] + frame_right[c]) / 2
    # column title baseline 23 px above the first frame, "Age" baseline 40 px below the last one
    label(ov, col_titles[c], cx, frame_top[0] - 23 - MID * 18, 18, align="center", units="data")
    label(ov, x_title, cx, frame_bottom[3] + 40 - MID * 18, 18, align="center", units="data")
letter_gap = [17, 2, 3, 4]
for r in range(4):
    label(ov, panel_letters[r], 3, frame_top[r] - letter_gap[r] - MID * 22, 22, bold=True, units="data")
    label(ov, row_names[r], 16.5 - MID * 18, (frame_top[r] + frame_bottom[r]) / 2, 18, align="center",
          angle=90, units="data")

layout = GridBox(children=[(grid, 0, 0), (ov, 0, 0)])
open("out.html", "w").write(file_html(layout, INLINE))
